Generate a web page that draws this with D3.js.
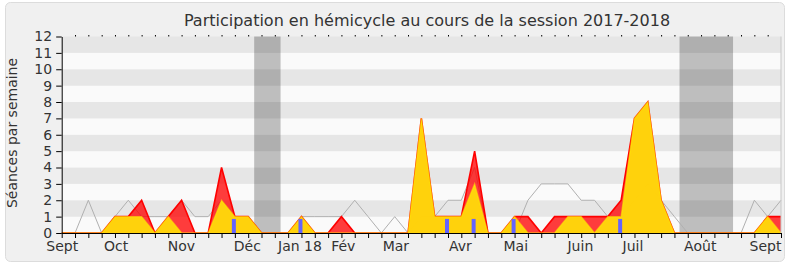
<!DOCTYPE html>
<html>
<head>
<meta charset="utf-8">
<script src="https://cdn.jsdelivr.net/npm/d3@7"></script>
<style>
  body { margin: 0; background: #fff; }
  svg { display: block; font-family: "DejaVu Sans", Verdana, sans-serif; }
</style>
</head>
<body>
<div id="chart"></div>
<script>
// one value per week, from the start of the session (Sept 2017) to Sept 2018
var presences = [0,0,0,0,1,1,2,0,1,2,0,0,4,1,1,0,0,0,1,0,0,1,0,0,0,0,0,7,1,1,1,5,0,0,1,1,0,1,1,1,1,1,2,7,8,2,0,0,0,0,0,0,0,1,1];
var participations = [0,0,0,0,1,1,1,0,1,0,0,0,2,1,1,0,0,0,1,0,0,0,0,0,0,0,0,7,1,1,1,3,0,0,1,0,0,0,1,1,0,1,1,7,8,2,0,0,0,0,0,0,0,1,0];
var mediane = [0,0,2,0,1,2,1,1,1,2,1,1,2,1,1,0,0,0,1,1,1,1,2,1,0,1,0,1,1,2,2,4,0,0,0,2,3,3,3,2,2,1,1,2,3,2,1,0,0,0,0,0,2,1,2];
// weeks with an oral question
var questions = [13, 18, 29, 31, 34, 42];

// month labels and their position on the week axis
var monthLabels = ["Sept", "Oct", "Nov", "Déc", "Jan 18", "Fév", "Mar", "Avr", "Mai", "Juin", "Juil", "Août", "Sept"];
var monthWeeks = [0, 4.05, 8.95, 13.9, 17.85, 21.1, 25.05, 29.9, 34.05, 38.9, 42.85, 47.9, 52.8];

// parliamentary holidays (in weeks)
var vacances = [[14.45, 16.43], [46.38, 50.4]];

var yTicks = d3.range(0, 13);

var W = 790, H = 267;
var svg = d3.select("#chart").append("svg")
    .attr("width", W)
    .attr("height", H);

// frame
svg.append("rect")
    .attr("x", 5.5).attr("y", 2.5)
    .attr("width", 779).attr("height", 259)
    .attr("rx", 5)
    .attr("fill", "#f0f0f0")
    .attr("stroke", "#dcdcdc");

var nWeeks = presences.length;
var x = d3.scaleLinear().domain([0, nWeeks - 1]).range([61.7, 781]);
var y = d3.scaleLinear().domain([0, 12]).range([233, 36.5]);

// stripes
svg.selectAll(".band")
    .data(d3.range(0, 12))
    .enter().append("rect")
    .attr("x", x(0))
    .attr("y", function (d) { return y(d + 1); })
    .attr("width", x(nWeeks - 1) - x(0))
    .attr("height", function (d) { return y(d) - y(d + 1); })
    .attr("fill", function (d) { return d % 2 ? "#e6e6e6" : "#fafafa"; });

// holidays
svg.selectAll(".vac")
    .data(vacances)
    .enter().append("rect")
    .attr("x", function (d) { return x(d[0]); })
    .attr("y", y(12))
    .attr("width", function (d) { return x(d[1]) - x(d[0]); })
    .attr("height", y(0) - y(12))
    .attr("fill", "#000")
    .attr("fill-opacity", 0.24);

var line = d3.line()
    .x(function (d, i) { return x(i); })
    .y(function (d) { return y(d); });

var area = d3.area()
    .x(function (d, i) { return x(i); })
    .y0(y(0))
    .y1(function (d) { return y(d); });

// median line
svg.append("path")
    .attr("d", line(mediane))
    .attr("fill", "none")
    .attr("stroke", "#b0b0b0")
    .attr("stroke-width", 1);

// presences
svg.append("path")
    .attr("d", area(presences))
    .attr("fill", "#ff0000")
    .attr("fill-opacity", 0.76)
    .attr("stroke", "none");
svg.append("path")
    .attr("d", line(presences))
    .attr("fill", "none")
    .attr("stroke", "#ff0000")
    .attr("stroke-width", 1.6);

// participations
svg.append("path")
    .attr("d", area(participations))
    .attr("fill", "#ffd80a")
    .attr("fill-opacity", 0.96)
    .attr("stroke", "none");
svg.append("path")
    .attr("d", line(participations))
    .attr("fill", "none")
    .attr("stroke", "#ffee00")
    .attr("stroke-opacity", 0.55)
    .attr("stroke-width", 1.4);

// oral questions
svg.selectAll(".q")
    .data(questions)
    .enter().append("rect")
    .attr("x", function (d) { return x(d) - 3; })
    .attr("y", y(0.86))
    .attr("width", 4)
    .attr("height", y(0) - y(0.86))
    .attr("fill", "#6464ff");

// right border
svg.append("line")
    .attr("x1", x(nWeeks - 1)).attr("x2", x(nWeeks - 1))
    .attr("y1", y(12)).attr("y2", y(0))
    .attr("stroke", "#c8c8c8");

// axes
var xTicks = svg.append("g")
    .attr("transform", "translate(0," + y(0) + ")")
    .call(d3.axisBottom(x).tickValues(d3.range(0, nWeeks)).tickFormat("").tickSize(5).tickSizeOuter(0));
xTicks.selectAll("line, path").attr("stroke", "#000");

var xLabels = svg.append("g")
    .attr("transform", "translate(0," + y(0) + ")")
    .call(d3.axisBottom(x).tickValues(monthWeeks)
        .tickFormat(function (d, i) { return monthLabels[i]; })
        .tickSize(0).tickPadding(8));
xLabels.select(".domain").remove();
xLabels.selectAll("text")
    .attr("font-family", "DejaVu Sans, Verdana, sans-serif")
    .attr("font-size", 14)
    .attr("fill", "#333");

var topTicks = svg.append("g")
    .attr("transform", "translate(0," + y(12) + ")")
    .call(d3.axisTop(x).tickValues(d3.range(1, nWeeks - 1)).tickFormat("").tickSize(1.5).tickSizeOuter(0));
topTicks.select(".domain").remove();
topTicks.selectAll("line").attr("stroke", "#000");

var yAxis = svg.append("g")
    .attr("transform", "translate(" + x(0) + ",0)")
    .call(d3.axisLeft(y).tickValues(yTicks).tickFormat(d3.format("d")).tickSize(5.5).tickPadding(4).tickSizeOuter(0));
yAxis.selectAll("line, path").attr("stroke", "#000");
yAxis.selectAll("text")
    .attr("font-family", "DejaVu Sans, Verdana, sans-serif")
    .attr("font-size", 14)
    .attr("fill", "#333");

// title
svg.append("text")
    .attr("x", 427)
    .attr("y", 26)
    .attr("text-anchor", "middle")
    .attr("font-size", 16)
    .attr("fill", "#333")
    .text("Participation en hémicycle au cours de la session 2017-2018");

// y label
svg.append("text")
    .attr("transform", "translate(17," + 133 + ") rotate(-90)")
    .attr("text-anchor", "middle")
    .attr("font-size", 14)
    .attr("fill", "#333")
    .text("Séances par semaine");
</script>
</body>
</html>
